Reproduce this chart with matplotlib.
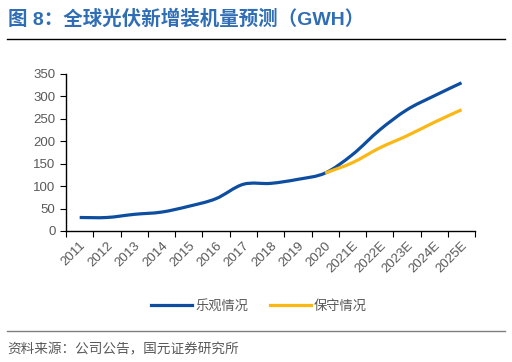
import numpy as np
import matplotlib.pyplot as plt
from matplotlib.path import Path
from matplotlib.patches import PathPatch
from matplotlib.lines import Line2D

plt.rcParams['font.family'] = ['Liberation Sans', 'Noto Sans CJK SC', 'DejaVu Sans']

years = ['2011', '2012', '2013', '2014', '2015', '2016', '2017', '2018', '2019', '2020',
         '2021E', '2022E', '2023E', '2024E', '2025E']
optimistic = [30, 30, 37, 42, 55, 72, 104, 106, 115, 129, 170, 225, 270, 301, 330]
conservative_years = ['2020', '2021E', '2022E', '2023E', '2024E', '2025E']
conservative = [129, 152, 185, 212, 242, 270]

blue = '#0D4EA0'
yellow = '#FBB714'
grey = '#595959'


def smooth_path(xs, ys, t=1 / 6):
    # catmull-rom style bezier, similar to excel smoothed lines
    xs = np.asarray(xs, float)
    ys = np.asarray(ys, float)
    pts = np.column_stack([xs, ys])
    verts = [pts[0]]
    codes = [Path.MOVETO]
    n = len(pts)
    for i in range(n - 1):
        p0 = pts[max(i - 1, 0)]
        p1 = pts[i]
        p2 = pts[i + 1]
        p3 = pts[min(i + 2, n - 1)]
        c1 = p1 + (p2 - p0) * t
        c2 = p2 - (p3 - p1) * t
        verts += [c1, c2, p2]
        codes += [Path.CURVE4] * 3
    return Path(verts, codes)


fig = plt.figure(figsize=(5.12, 3.62), dpi=100)
ax = fig.add_axes([0.129, 0.362, 0.799, 0.434])

x = np.arange(len(years))
xc = x[years.index(conservative_years[0]):]

ax.add_patch(PathPatch(smooth_path(x, optimistic), fill=False, edgecolor=blue,
                       lw=2.3, capstyle='butt', zorder=3))
ax.add_patch(PathPatch(smooth_path(xc, conservative), fill=False, edgecolor=yellow,
                       lw=2.3, capstyle='butt', zorder=3))

ax.set_xlim(-0.5, len(years) - 0.5)
ax.set_ylim(0, 350)
ax.set_yticks(range(0, 351, 50))
ax.set_xticks(x)
ax.set_xticklabels(years, rotation=45, ha='right', rotation_mode='anchor')
ax.set_xticks(np.arange(-0.5, len(years)), minor=True)
ax.tick_params(axis='x', which='major', length=0, pad=6, labelsize=9.5, labelcolor=grey)
ax.tick_params(axis='x', which='minor', length=4, width=0.8, direction='out')
ax.tick_params(axis='y', length=4, width=0.8, labelsize=9.5, labelcolor=grey)
for s in ['top', 'right']:
    ax.spines[s].set_visible(False)
for s in ['left', 'bottom']:
    ax.spines[s].set_linewidth(1.0)
    ax.spines[s].set_color('black')

handles = [Line2D([], [], color=blue, lw=2.3), Line2D([], [], color=yellow, lw=2.3)]
fig.legend(handles, ['乐观情况', '保守情况'], loc='center', bbox_to_anchor=(0.506, 0.155),
           ncol=2, frameon=False, fontsize=9.5, handlelength=3.1, columnspacing=1.6,
           handletextpad=0.25, labelcolor=grey)

fig.text(0.016, 0.948, '图 8：全球光伏新增装机量预测（GWH）', fontsize=14, fontweight='bold',
         color='#2F6DB5', va='center')
fig.add_artist(Line2D([0.014, 0.986], [0.892, 0.892], color='black', lw=1.0))
fig.add_artist(Line2D([0.014, 0.986], [0.085, 0.085], color='#7F7F7F', lw=1.0))
fig.text(0.014, 0.036, '资料来源：公司公告，国元证券研究所', fontsize=9.8, color=grey, va='center')

fig.savefig('out.png', dpi=100)
